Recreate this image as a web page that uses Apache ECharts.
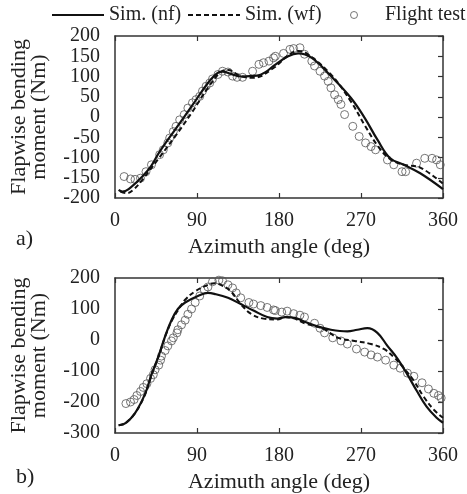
<!DOCTYPE html>
<html><head><meta charset="utf-8">
<script src="https://cdn.jsdelivr.net/npm/echarts@6/dist/echarts.min.js"></script>
<style>html,body{margin:0;padding:0;background:#fff}#c{width:467px;height:494px}</style>
</head><body><div id="c"></div>
<script>
// x tick labels (deg)
const xTicks = [0, 90, 180, 270, 360];
// a) top chart
const topNf = [[4,-180],[8,-184],[15,-178],[30,-147],[40,-120],[48,-89],[66,-31],[84,26],[102,84],[112,108],[118,112],[128,106],[138,100],[156,102],[166,112],[174,126],[190,150],[201,157],[216,146],[237,101],[259,47],[274,-2],[288,-56],[302,-102],[317,-118],[335,-139],[360,-178]];
const topWf = [[6,-184],[13,-188],[20,-180],[30,-155],[48,-102],[66,-48],[84,10],[102,72],[116,111],[124,116],[138,101],[152,97],[174,121],[190,152],[201,163],[209,159],[237,105],[259,38],[274,-20],[288,-70],[302,-104],[317,-118],[335,-125],[360,-165]];
const topFlight = [[10,-147],[17,-153],[22,-154],[28,-151],[34,-135],[40,-118],[49,-93],[53,-81],[58,-64],[60,-52],[64,-36],[67,-23],[71,-7],[76,6],[80,22],[85,35],[89,43],[93,51],[96,64],[100,76],[104,84],[107,94],[113,105],[118,113],[124,111],[129,101],[134,98],[140,98],[151,113],[158,130],[163,134],[169,138],[174,146],[176,150],[185,157],[192,167],[196,169],[203,171],[208,155],[216,138],[219,126],[225,113],[230,101],[234,88],[237,72],[241,55],[245,43],[248,31],[252,6],[261,-23],[268,-48],[275,-64],[281,-73],[286,-81],[299,-106],[306,-118],[315,-135],[319,-135],[331,-114],[340,-102],[348,-102],[353,-106],[357,-118]];
// b) bottom chart
const botNf = [[4,-275],[12,-267],[22,-236],[33,-174],[40,-112],[48,-50],[55,12],[62,64],[69,100],[77,121],[91,142],[102,152],[109,149],[124,136],[138,116],[152,95],[167,74],[178,69],[187,74],[198,71],[208,59],[223,43],[237,33],[255,28],[266,33],[277,38],[288,23],[299,-19],[310,-60],[321,-112],[331,-163],[342,-215],[353,-251],[360,-267]];
const botWf = [[4,-275],[12,-267],[22,-236],[33,-176],[40,-115],[48,-52],[55,10],[62,60],[70,100],[77,130],[88,157],[102,178],[109,183],[116,178],[127,157],[138,116],[149,85],[163,69],[178,66],[187,74],[198,68],[208,54],[227,38],[245,7],[263,-3],[281,-13],[295,-29],[306,-55],[317,-91],[328,-132],[339,-184],[350,-225],[360,-251]];
const botFlight = [[12,-205],[17,-200],[21,-192],[24,-179],[28,-166],[31,-153],[35,-141],[39,-124],[42,-112],[44,-96],[48,-81],[50,-65],[51,-52],[55,-34],[58,-19],[62,-3],[64,7],[68,23],[69,33],[73,49],[77,64],[80,83],[84,100],[88,121],[93,142],[98,162],[102,171],[107,188],[114,193],[118,191],[124,178],[129,168],[133,152],[138,136],[147,121],[152,116],[160,111],[167,105],[174,97],[176,95],[183,90],[189,93],[196,85],[203,80],[208,74],[219,54],[225,38],[230,23],[239,7],[248,-3],[255,-13],[265,-29],[274,-39],[281,-48],[288,-55],[297,-65],[306,-81],[313,-91],[321,-107],[328,-117],[337,-138],[344,-158],[350,-172],[355,-179],[358,-187]];
const seriesNames = ['Sim. (nf)', 'Sim. (wf)', 'Flight test'];
const yTitle = 'Flapwise bending\nmoment (Nm)';
const xTitle = 'Azimuth angle (deg)';
const panelLabels = ['a)', 'b)'];

const FONT = '"Liberation Serif", "Times New Roman", serif';
const AX = '#333';
const chart = echarts.init(document.getElementById('c'));

function xAxes(gi) {
  return [{
    gridIndex: gi, type: 'value', min: 0, max: 360, interval: 90, position: 'bottom',
    axisLine: {show: true, onZero: false, lineStyle: {color: AX, width: 1.5}},
    axisTick: {show: true, inside: true, length: 5, lineStyle: {color: AX, width: 1.2}},
    axisLabel: {show: true, margin: 13, fontFamily: FONT, fontSize: 20, color: '#222',
      formatter: v => xTicks.includes(v) ? String(v) : ''},
    splitLine: {show: false},
    name: xTitle, nameLocation: 'middle', nameGap: 38,
    nameTextStyle: {fontFamily: FONT, fontSize: 22, color: '#222'}
  }, {
    gridIndex: gi, type: 'value', min: 0, max: 360, interval: 90, position: 'top',
    axisLine: {show: true, onZero: false, lineStyle: {color: AX, width: 1.5}},
    axisTick: {show: true, inside: true, length: 5, lineStyle: {color: AX, width: 1.2}},
    axisLabel: {show: false}, splitLine: {show: false}
  }];
}
function yAxes(gi, min, max, interval) {
  return [{
    gridIndex: gi, type: 'value', min, max, interval, position: 'left',
    axisLine: {show: true, onZero: false, lineStyle: {color: AX, width: 1.5}},
    axisTick: {show: false},
    axisLabel: {show: true, margin: 15, fontFamily: FONT, fontSize: 20, color: '#222'},
    splitLine: {show: false},
    name: yTitle, nameLocation: 'middle', nameRotate: 90, nameGap: 66,
    nameTextStyle: {fontFamily: FONT, fontSize: 22, color: '#222', lineHeight: 20, align: 'center'}
  }, {
    gridIndex: gi, type: 'value', min, max, interval, position: 'right',
    axisLine: {show: true, onZero: false, lineStyle: {color: AX, width: 1.5}},
    axisTick: {show: true, inside: true, length: 5, lineStyle: {color: AX, width: 1.2}},
    axisLabel: {show: false}, splitLine: {show: false}
  }];
}
function seriesFor(xi, yi, nf, wf, fl) {
  return [{
    name: seriesNames[0], type: 'line', xAxisIndex: xi, yAxisIndex: yi, data: nf,
    smooth: 0.4, symbol: 'none', showSymbol: false, lineStyle: {color: '#111', width: 2.2, type: 'solid'}, itemStyle: {color: '#111'}, z: 3
  }, {
    name: seriesNames[1], type: 'line', xAxisIndex: xi, yAxisIndex: yi, data: wf,
    smooth: 0.4, symbol: 'none', showSymbol: false, lineStyle: {color: '#111', width: 2, type: [5, 3]}, itemStyle: {color: '#111'}, z: 3
  }, {
    name: seriesNames[2], type: 'scatter', xAxisIndex: xi, yAxisIndex: yi, data: fl,
    symbol: 'circle', symbolSize: 8,
    itemStyle: {color: 'rgba(255,255,255,0)', borderColor: '#555', borderWidth: 1}, z: 2
  }];
}
function legendAt(left, width, item, textPad) {
  return {
    left, top: 5, padding: 0, itemWidth: width, itemHeight: 7,
    textStyle: {fontFamily: FONT, fontSize: 20, color: '#222', padding: [0, 0, 0, textPad]},
    data: [item]
  };
}

chart.setOption({
  animation: false,
  backgroundColor: '#fff',
  legend: [
    legendAt(51, 52, {name: seriesNames[0], itemStyle: {opacity: 0}}, 0),
    legendAt(187, 52, {name: seriesNames[1], itemStyle: {opacity: 0}}, 0),
    legendAt(350, 8, {name: seriesNames[2], icon: 'circle', itemStyle: {color: 'rgba(255,255,255,0)', borderColor: '#555', borderWidth: 1}}, 22)
  ],
  grid: [
    {left: 111, top: 36, width: 332, height: 162},
    {left: 111, top: 278, width: 332, height: 162}
  ],
  xAxis: [...xAxes(0), ...xAxes(1)],
  yAxis: [...yAxes(0, -200, 200, 50), ...yAxes(1, -300, 200, 100)],
  series: [...seriesFor(0, 0, topNf, topWf, topFlight), ...seriesFor(2, 2, botNf, botWf, botFlight)],
  graphic: [
    {type: 'text', left: 16, top: 228, style: {text: panelLabels[0], font: '22px ' + FONT, fill: '#222'}},
    {type: 'text', left: 16, top: 466, style: {text: panelLabels[1], font: '22px ' + FONT, fill: '#222'}}
  ]
});
</script>
</body></html>
